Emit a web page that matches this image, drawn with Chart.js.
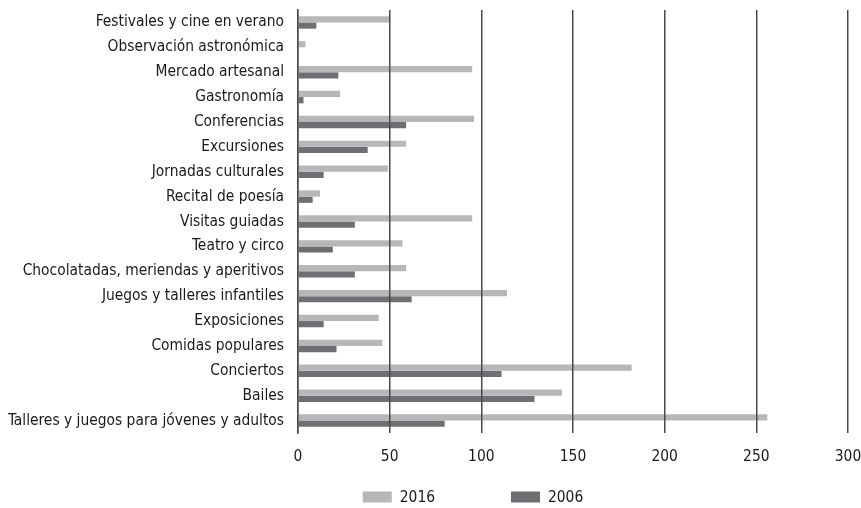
<!DOCTYPE html>
<html>
<head>
<meta charset="utf-8">
<script src="https://cdn.jsdelivr.net/npm/chart.js@4.4.1/dist/chart.umd.min.js"></script>
<style>
    html, body { margin: 0; padding: 0; background: #fff; overflow: hidden; }
    #wrap { width: 861px; height: 508px; }
</style>
</head>
<body>
<div id="wrap"><canvas id="chart"></canvas></div>
<script>
const categories = [
    'Festivales y cine en verano',
    'Observación astronómica',
    'Mercado artesanal',
    'Gastronomía',
    'Conferencias',
    'Excursiones',
    'Jornadas culturales',
    'Recital de poesía',
    'Visitas guiadas',
    'Teatro y circo',
    'Chocolatadas, meriendas y aperitivos',
    'Juegos y talleres infantiles',
    'Exposiciones',
    'Comidas populares',
    'Conciertos',
    'Bailes',
    'Talleres y juegos para jóvenes y adultos'
]
const values2016 = [50, 4, 95, 23, 96, 59, 49, 12, 95, 57, 59, 114, 44, 46, 182, 144, 256]
const values2006 = [10, 0, 22, 3, 59, 38, 14, 8, 31, 19, 31, 62, 14, 21, 111, 129, 80]
const seriesNames = ['2016', '2006']
const xTicks = [0, 50, 100, 150, 200, 250, 300]

const fontFamily = "'DejaVu Sans Condensed', 'Liberation Sans Narrow', sans-serif"
const fontSize = 15.4
const textColor = '#1a1a1a'
const lineColor = '#4a4a4a'

// legend drawn under the axis, centred a bit right of the page middle
const bottomLegend = {
    id: 'bottomLegend',
    afterDraw(chart) {
        const ctx = chart.ctx
        const boxW = 29, boxH = 11, gap = 8, spacing = 76
        ctx.save()
        ctx.font = fontSize + 'px ' + fontFamily
        ctx.textBaseline = 'middle'
        const items = chart.data.datasets.map(ds => ({
            text: ds.label,
            color: ds.backgroundColor,
            w: boxW + gap + ctx.measureText(ds.label).width
        }))
        const total = items.reduce((s, it) => s + it.w, 0) + spacing * (items.length - 1)
        let x = 473 - total / 2
        const y = 497
        items.forEach(it => {
            ctx.fillStyle = it.color
            ctx.fillRect(x, y - boxH / 2, boxW, boxH)
            ctx.fillStyle = textColor
            ctx.fillText(it.text, x + boxW + gap, y + 1)
            x += it.w + spacing
        })
        ctx.restore()
    }
}

const ctx = document.getElementById('chart').getContext('2d')
const myChart = new Chart(ctx, {
    type: 'bar',
    data: {
        labels: categories,
        datasets: [{
            label: seriesNames[0],
            data: values2016,
            backgroundColor: '#b6b7b9',
            borderWidth: 0,
            barPercentage: 1,
            categoryPercentage: 0.5
        }, {
            label: seriesNames[1],
            data: values2006,
            backgroundColor: '#6f6f73',
            borderWidth: 0,
            barPercentage: 1,
            categoryPercentage: 0.5
        }]
    },
    options: {
        indexAxis: 'y',
        responsive: true,
        maintainAspectRatio: false,
        animation: false,
        layout: {
            padding: { top: 10, right: 13, bottom: 0, left: 0 }
        },
        plugins: {
            legend: { display: false },
            tooltip: { enabled: false }
        },
        scales: {
            x: {
                min: 0,
                max: 300,
                afterBuildTicks: (scale) => {
                    scale.ticks = xTicks.map(v => ({ value: v }))
                },
                afterFit: (scale) => {
                    scale.height = 75
                    scale.paddingLeft = 0
                    scale.paddingRight = 0
                },
                grid: {
                    color: lineColor,
                    lineWidth: 1.5,
                    drawTicks: false,
                    z: 1
                },
                border: { display: false },
                ticks: {
                    padding: 15,
                    color: textColor,
                    font: { family: fontFamily, size: fontSize }
                }
            },
            y: {
                afterFit: (scale) => {
                    scale.width = 298
                    scale.paddingTop = 0
                    scale.paddingBottom = 0
                },
                grid: { display: false, drawTicks: false },
                border: { display: true, color: lineColor, width: 1.5, z: 1 },
                ticks: {
                    padding: 14,
                    color: textColor,
                    font: { family: fontFamily, size: fontSize }
                }
            }
        }
    },
    plugins: [bottomLegend]
})
</script>
</body>
</html>
